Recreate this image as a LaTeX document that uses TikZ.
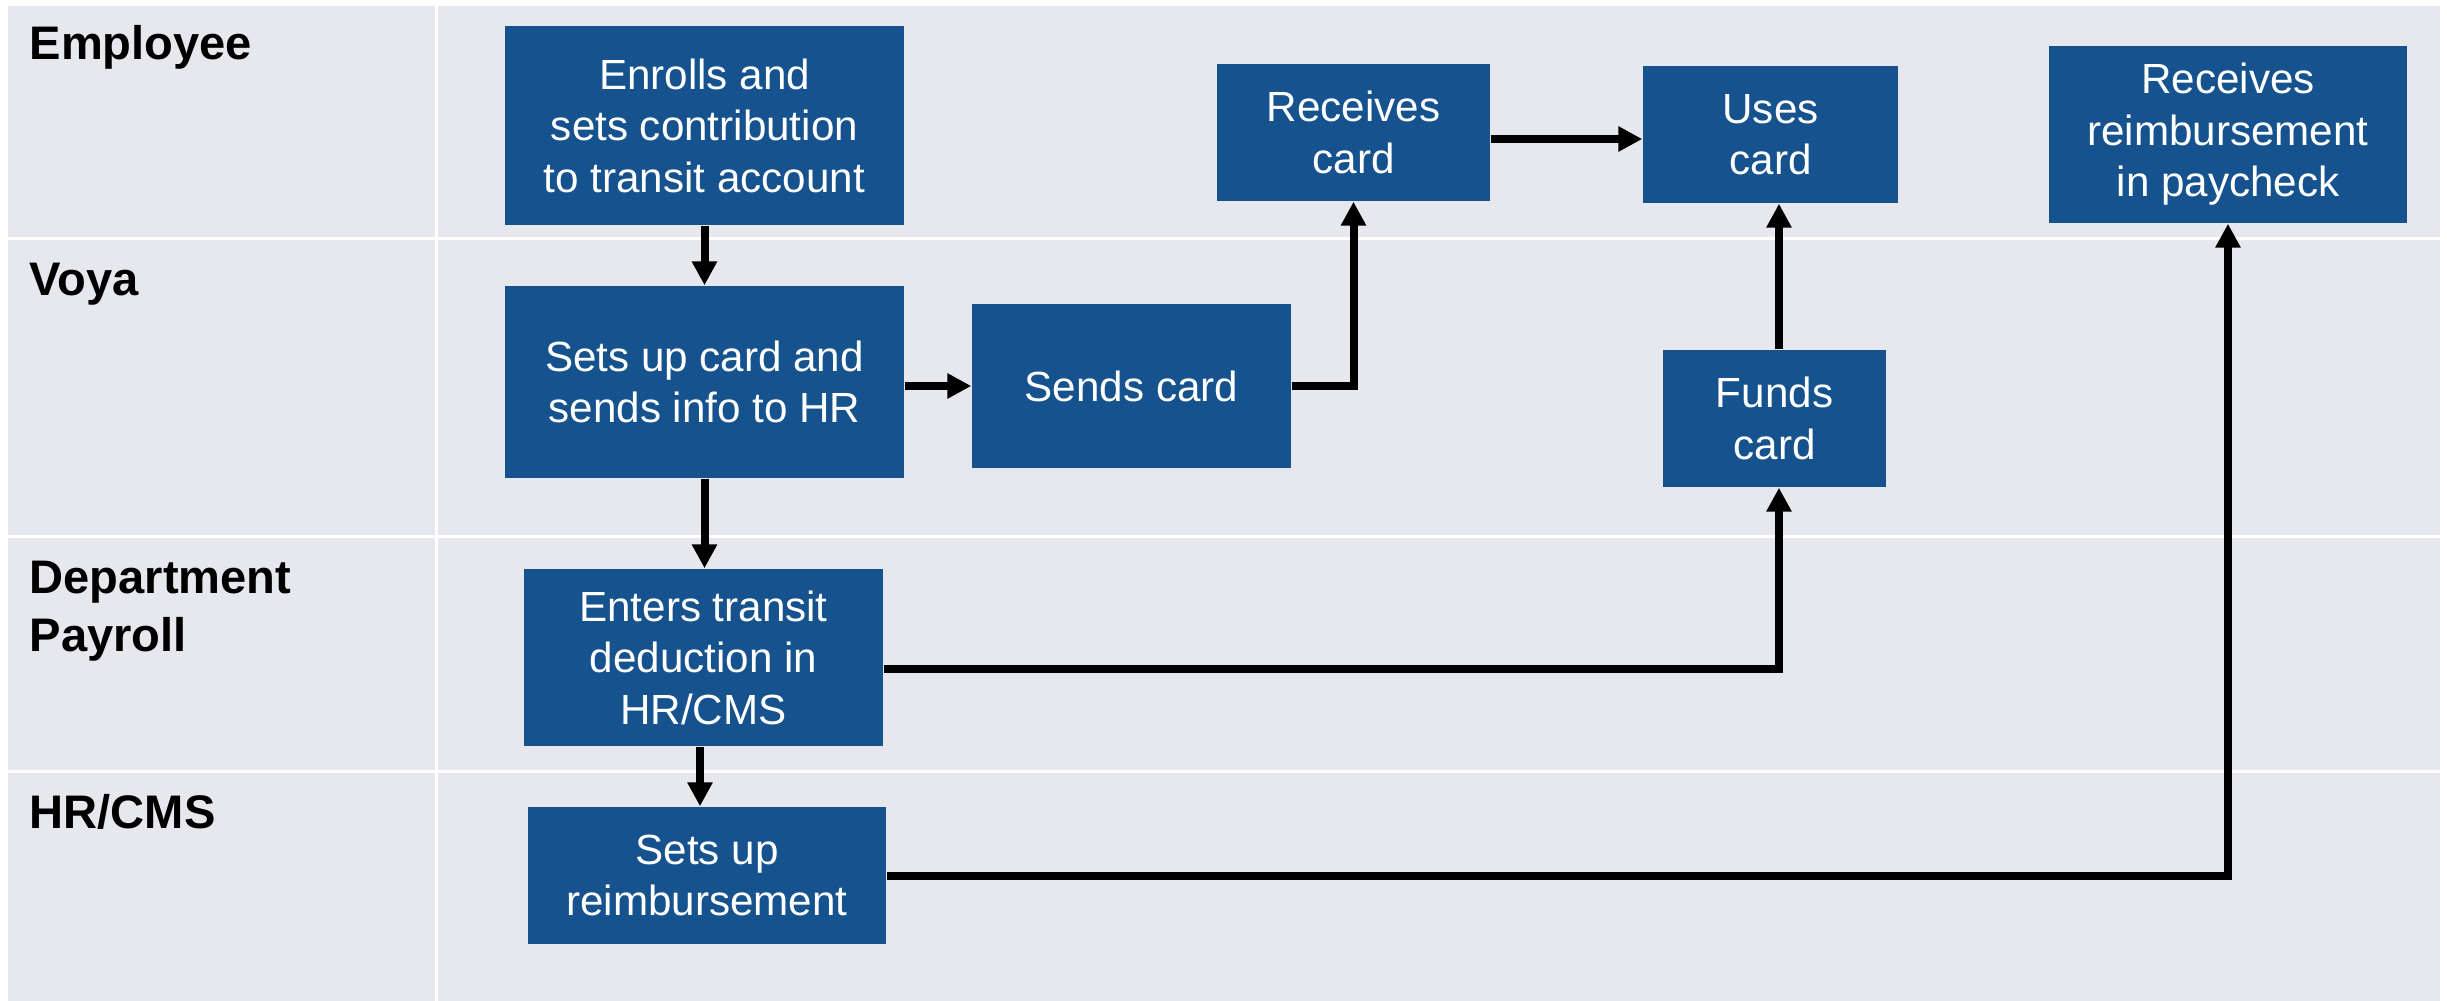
\documentclass[tikz,border=0pt]{standalone}
\usepackage{fontspec}
\setmainfont{Liberation Sans}
\usetikzlibrary{arrows.meta,calc}
\definecolor{boxblue}{HTML}{16538E}
\definecolor{lanegray}{HTML}{E7E8EE}
\begin{document}
\begin{tikzpicture}[x=0.1mm,y=-0.1mm,
  box/.style={fill=boxblue, text=white, inner sep=0pt, align=center,
    font=\fontsize{12}{14.65}\selectfont},
  lanelabel/.style={font=\bfseries\fontsize{13.4}{16.5}\selectfont,
    anchor=base west, inner sep=0pt, align=left},
  arr/.style={line width=0.8mm, line join=miter,
    -{Triangle[length=2.4mm,width=2.4mm]}},
  sepline/.style={white, line width=0.3mm}]
\useasboundingbox (0,0) rectangle (2447,1001);
\fill[white] (0,0) rectangle (2447,1001);
\fill[lanegray] (8,6) rectangle (2440,1001);
\draw[sepline] (8,239) -- (2440,239);
\draw[sepline] (8,536.5) -- (2440,536.5);
\draw[sepline] (8,771.5) -- (2440,771.5);
\draw[sepline] (436,6) -- (436,1001);

\node[lanelabel] (l1) at (29,60) {Employee};
\node[lanelabel] (l2) at (29,296) {Voya};
\node[lanelabel] (l3) at (29,651) {Department\\Payroll};
\node[lanelabel] (l4) at (29,828) {HR/CMS};

\node[box, minimum width=39.9mm, minimum height=19.9mm] (en) at (704.5,125.5) {Enrolls and\\sets contribution\\to transit account};
\node[box, minimum width=39.9mm, minimum height=19.2mm] (su) at (704.5,382) {Sets up card and\\sends info to HR};
\node[box, minimum width=31.9mm, minimum height=16.4mm] (sc) at (1131.5,386) {Sends card};
\node[box, minimum width=27.3mm, minimum height=13.7mm] (rc) at (1353.5,132.5) {Receives\\card};
\node[box, minimum width=25.5mm, minimum height=13.7mm] (uc) at (1770.5,134.5) {Uses\\card};
\node[box, minimum width=35.8mm, minimum height=17.7mm] (rr) at (2228,134.5) {Receives\\reimbursement\\in paycheck};
\node[box, minimum width=22.3mm, minimum height=13.7mm] (fc) at (1774.5,418.5) {Funds\\card};
\node[box, minimum width=35.9mm, minimum height=17.7mm] (et) at (703.5,657.5) {Enters transit\\deduction in\\HR/CMS};
\node[box, minimum width=35.8mm, minimum height=13.7mm] (sr) at (707,875.5) {Sets up\\reimbursement};

\draw[arr] (en.south) -- (su.north);
\draw[arr] (sc.west -| su.east) -- (sc.west);
\draw[arr] (sc.east) -| (rc.south);
\draw[arr] ([yshift=-0.65mm]rc.east) -- ([yshift=-0.65mm]rc.east -| uc.west);
\draw[arr] ([xshift=0.45mm]fc.north) -- ([xshift=0.45mm]fc.north |- uc.south);
\draw[arr] (su.south) -- (su.south |- et.north);
\draw[arr] ([yshift=-1.15mm]et.east) -| ([xshift=0.45mm]fc.south);
\draw[arr] (et.south -| sr.north) ++(-7,0) -- ($(sr.north)+(-7,0)$);
\draw[arr] (sr.east) -| (rr.south);
\end{tikzpicture}
\end{document}
